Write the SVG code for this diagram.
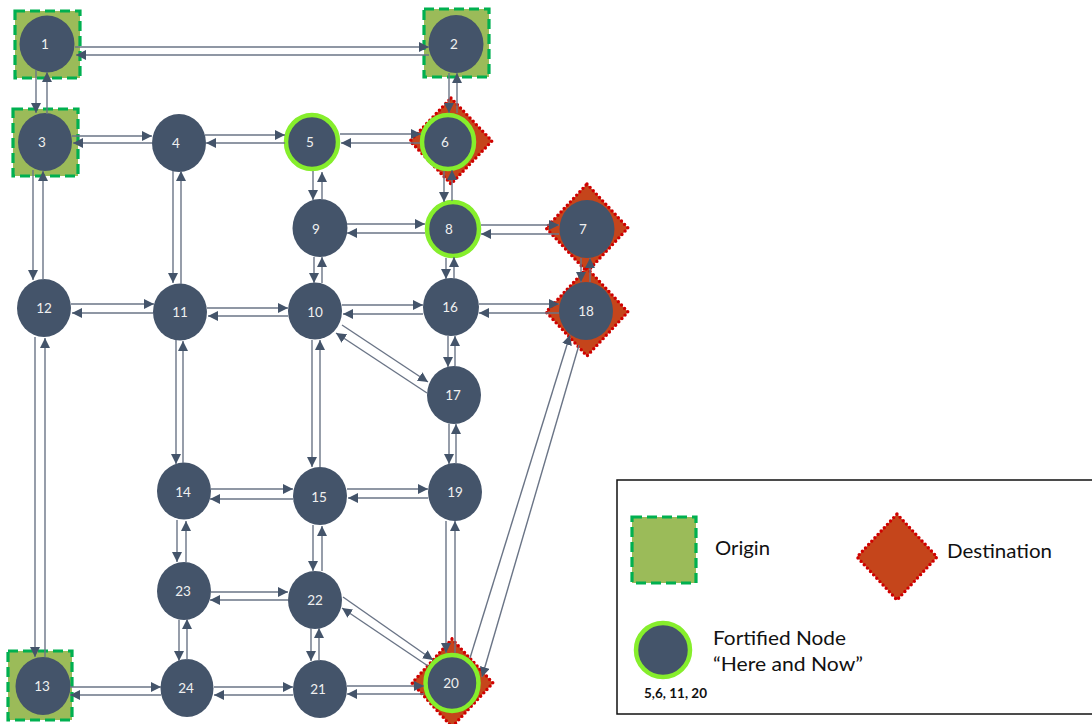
<svg xmlns="http://www.w3.org/2000/svg" width="1092" height="724" viewBox="0 0 1092 724">
  <defs>
    <style>
      .n { fill: #44546A; }
      .f { fill: #44546A; stroke: #86EE2C; stroke-width: 4.5; }
      .o { fill: #9BBB59; stroke: #00B050; stroke-width: 3.2; stroke-dasharray: 10 5; }
      .d { fill: #C5451B; stroke: #D00000; stroke-width: 3.4; stroke-dasharray: 0 4.6; stroke-linecap: round; }
      .t { fill: #F0F0F0; font-family: Lato, "Open Sans", sans-serif; font-size: 13.5px; text-anchor: middle; dominant-baseline: central; }
      .c line { stroke: #6A7486; stroke-width: 1.4; marker-end: url(#arr); }
      .lg { fill: #111; font-family: Lato, "Open Sans", sans-serif; font-size: 20px; }
    </style>
    <marker id="arr" viewBox="0 0 10 10" refX="10" refY="5" markerWidth="10" markerHeight="10" markerUnits="userSpaceOnUse" orient="auto">
      <path d="M0,0 L10,5 L0,10 z" fill="#44546A"/>
    </marker>
  </defs>
  <rect width="1092" height="724" fill="#FFFFFF"/>

  <!-- nodes -->
  <g id="node-1"><rect class="o" x="15" y="11" width="65" height="67"/><ellipse class="n" cx="47" cy="44" rx="27.5" ry="28.5"/><text class="t" x="45" y="44">1</text></g>
  <g id="node-2"><rect class="o" x="424" y="9" width="65" height="68"/><ellipse class="n" cx="456" cy="44" rx="27.5" ry="29"/><text class="t" x="454" y="44">2</text></g>
  <g id="node-3"><rect class="o" x="13" y="109" width="65" height="67"/><ellipse class="n" cx="45" cy="142" rx="27" ry="29"/><text class="t" x="42" y="142">3</text></g>
  <g id="node-4"><ellipse class="n" cx="179" cy="143" rx="27" ry="29"/><text class="t" x="176" y="143">4</text></g>
  <g id="node-5"><ellipse class="f" cx="312" cy="142" rx="26" ry="27"/><text class="t" x="310" y="142">5</text></g>
  <g id="node-6"><polygon class="d" points="451,98 492,141 451,184 410,141"/><ellipse class="f" cx="448" cy="142" rx="26" ry="27"/><text class="t" x="445" y="142">6</text></g>
  <g id="node-7"><polygon class="d" points="587,184 628,228 587,272 546,228"/><ellipse class="n" cx="587" cy="229" rx="27.5" ry="29"/><text class="t" x="583" y="229">7</text></g>
  <g id="node-8"><ellipse class="f" cx="453" cy="229" rx="26" ry="27"/><text class="t" x="449" y="229">8</text></g>
  <g id="node-9"><ellipse class="n" cx="320" cy="228" rx="27.5" ry="29"/><text class="t" x="316" y="229">9</text></g>
  <g id="node-10"><ellipse class="n" cx="315" cy="311" rx="27" ry="28.5"/><text class="t" x="315" y="312">10</text></g>
  <g id="node-11"><ellipse class="n" cx="180" cy="312" rx="27" ry="28.5"/><text class="t" x="180" y="312">11</text></g>
  <g id="node-12"><ellipse class="n" cx="44" cy="308" rx="27" ry="29"/><text class="t" x="44" y="308">12</text></g>
  <g id="node-13"><rect class="o" x="8" y="651" width="64" height="69"/><ellipse class="n" cx="43" cy="686" rx="27.5" ry="29"/><text class="t" x="42" y="686">13</text></g>
  <g id="node-14"><ellipse class="n" cx="184" cy="491" rx="27" ry="28.5"/><text class="t" x="183" y="492">14</text></g>
  <g id="node-15"><ellipse class="n" cx="320" cy="496" rx="27" ry="29"/><text class="t" x="319" y="497">15</text></g>
  <g id="node-16"><ellipse class="n" cx="451" cy="307" rx="28" ry="29"/><text class="t" x="450" y="307">16</text></g>
  <g id="node-17"><ellipse class="n" cx="454" cy="395" rx="27" ry="29"/><text class="t" x="453" y="395">17</text></g>
  <g id="node-18"><polygon class="d" points="587,268 628,312 587,356 546,312"/><ellipse class="n" cx="586" cy="311" rx="27" ry="29"/><text class="t" x="586" y="311">18</text></g>
  <g id="node-19"><ellipse class="n" cx="455" cy="492" rx="27" ry="29"/><text class="t" x="455" y="492">19</text></g>
  <g id="node-20"><polygon class="d" points="452,639 493,683 452,727 412,683"/><ellipse class="f" cx="452" cy="683" rx="26.5" ry="28"/><text class="t" x="451" y="683">20</text></g>
  <g id="node-21"><ellipse class="n" cx="320" cy="689" rx="27" ry="29"/><text class="t" x="318" y="689">21</text></g>
  <g id="node-22"><ellipse class="n" cx="315" cy="600" rx="27" ry="29"/><text class="t" x="315" y="600">22</text></g>
  <g id="node-23"><ellipse class="n" cx="184" cy="591" rx="27" ry="29"/><text class="t" x="183" y="591">23</text></g>
  <g id="node-24"><ellipse class="n" cx="187" cy="688" rx="26.5" ry="29"/><text class="t" x="186" y="688">24</text></g>

  <!-- connectors: each link is a pair of opposite one-way arcs -->
  <g id="connectors" class="c">
    <line x1="75" y1="47" x2="429" y2="47"/>
    <line x1="429" y1="55" x2="76" y2="55"/>
    <line x1="36" y1="70" x2="36" y2="113"/>
    <line x1="47" y1="114" x2="47" y2="72"/>
    <line x1="72" y1="136" x2="152" y2="136"/>
    <line x1="152" y1="143" x2="73" y2="143"/>
    <line x1="33" y1="170" x2="33" y2="280"/>
    <line x1="43" y1="280" x2="43" y2="171"/>
    <line x1="205" y1="135" x2="285" y2="135"/>
    <line x1="285" y1="143" x2="206" y2="143"/>
    <line x1="173" y1="171" x2="173" y2="283"/>
    <line x1="181" y1="284" x2="181" y2="171"/>
    <line x1="340" y1="134" x2="421" y2="134"/>
    <line x1="420" y1="143" x2="341" y2="143"/>
    <line x1="313" y1="171" x2="313" y2="200"/>
    <line x1="322" y1="200" x2="322" y2="172"/>
    <line x1="449" y1="73" x2="449" y2="113"/>
    <line x1="457" y1="113" x2="457" y2="73"/>
    <line x1="444" y1="171" x2="444" y2="202"/>
    <line x1="452" y1="201" x2="452" y2="170"/>
    <line x1="347" y1="224" x2="425" y2="224"/>
    <line x1="425" y1="233" x2="347" y2="233"/>
    <line x1="481" y1="225" x2="559" y2="225"/>
    <line x1="559" y1="234" x2="481" y2="234"/>
    <line x1="314" y1="257" x2="314" y2="283"/>
    <line x1="322" y1="283" x2="322" y2="257"/>
    <line x1="446" y1="258" x2="446" y2="279"/>
    <line x1="454" y1="279" x2="454" y2="257"/>
    <line x1="581" y1="258" x2="581" y2="282"/>
    <line x1="590" y1="282" x2="590" y2="258"/>
    <line x1="71" y1="304" x2="154" y2="304"/>
    <line x1="153" y1="313" x2="72" y2="313"/>
    <line x1="207" y1="308" x2="288" y2="308"/>
    <line x1="288" y1="316" x2="208" y2="316"/>
    <line x1="342" y1="305" x2="423" y2="305"/>
    <line x1="423" y1="314" x2="343" y2="314"/>
    <line x1="479" y1="304" x2="559" y2="304"/>
    <line x1="559" y1="313" x2="479" y2="313"/>
    <line x1="342" y1="325" x2="428" y2="382"/>
    <line x1="427" y1="393" x2="336" y2="333"/>
    <line x1="448" y1="336" x2="448" y2="367"/>
    <line x1="455" y1="366" x2="455" y2="336"/>
    <line x1="35" y1="337" x2="35" y2="657"/>
    <line x1="45" y1="657" x2="45" y2="338"/>
    <line x1="176" y1="340" x2="176" y2="464"/>
    <line x1="183" y1="463" x2="183" y2="341"/>
    <line x1="312" y1="340" x2="312" y2="467"/>
    <line x1="320" y1="467" x2="320" y2="340"/>
    <line x1="449" y1="424" x2="449" y2="464"/>
    <line x1="456" y1="464" x2="456" y2="424"/>
    <line x1="211" y1="489" x2="293" y2="489"/>
    <line x1="293" y1="499" x2="210" y2="499"/>
    <line x1="347" y1="489" x2="428" y2="489"/>
    <line x1="428" y1="498" x2="348" y2="498"/>
    <line x1="177" y1="520" x2="177" y2="562"/>
    <line x1="186" y1="562" x2="186" y2="521"/>
    <line x1="313" y1="525" x2="313" y2="571"/>
    <line x1="322" y1="571" x2="322" y2="526"/>
    <line x1="446" y1="521" x2="446" y2="653"/>
    <line x1="455" y1="653" x2="455" y2="521"/>
    <line x1="211" y1="592" x2="288" y2="592"/>
    <line x1="288" y1="600" x2="210" y2="600"/>
    <line x1="343" y1="597" x2="433" y2="660"/>
    <line x1="428" y1="666" x2="342" y2="608"/>
    <line x1="179" y1="620" x2="179" y2="661"/>
    <line x1="187" y1="660" x2="187" y2="619"/>
    <line x1="311" y1="628" x2="311" y2="661"/>
    <line x1="319" y1="661" x2="319" y2="628"/>
    <line x1="70" y1="687" x2="161" y2="687"/>
    <line x1="161" y1="695" x2="70" y2="695"/>
    <line x1="214" y1="687" x2="293" y2="687"/>
    <line x1="293" y1="695" x2="214" y2="695"/>
    <line x1="347" y1="686" x2="424" y2="686"/>
    <line x1="424" y1="694" x2="347" y2="694"/>
    <line x1="470" y1="658" x2="570" y2="335"/>
    <line x1="579" y1="345" x2="482" y2="677"/>
  </g>

  <!-- legend -->
  <g id="legend">
    <rect x="617" y="480" width="478" height="234" fill="none" stroke="#111" stroke-width="1.5"/>
    <rect class="o" x="632" y="517" width="64" height="66"/>
    <text class="lg" x="715" y="555" textLength="55" lengthAdjust="spacingAndGlyphs">Origin</text>
    <polygon class="d" points="897,514 937,557 897,600 857,557"/>
    <text class="lg" x="947" y="558" textLength="105" lengthAdjust="spacingAndGlyphs">Destination</text>
    <circle class="f" cx="663" cy="650" r="27"/>
    <text class="lg" x="713" y="645" textLength="133" lengthAdjust="spacingAndGlyphs">Fortified Node</text>
    <text class="lg" x="713" y="671" textLength="150" lengthAdjust="spacingAndGlyphs">“Here and Now”</text>
    <text x="644" y="698" font-family="Lato, 'Open Sans', sans-serif" font-size="13" font-weight="bold" fill="#111" textLength="63" lengthAdjust="spacingAndGlyphs">5,6, 11, 20</text>
  </g>
</svg>
